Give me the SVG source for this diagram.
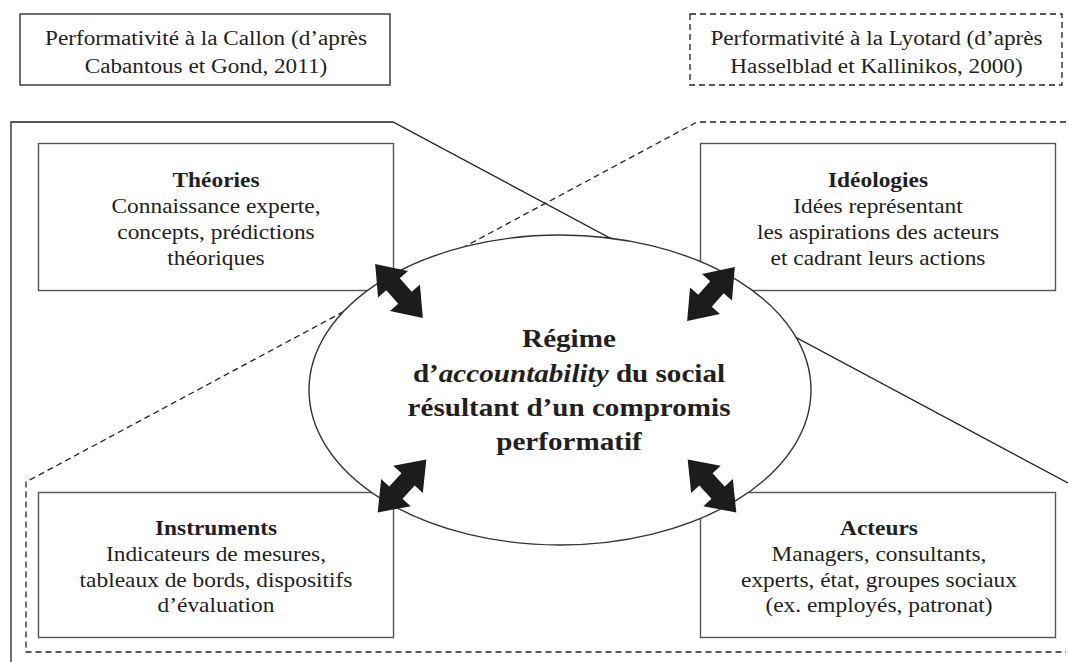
<svg xmlns="http://www.w3.org/2000/svg" width="1068" height="662" viewBox="0 0 1068 662">
<style>
text{font-family:"Liberation Serif","Times New Roman",serif;fill:#231f20;text-anchor:middle}
.t{font-size:20px}
.b{font-weight:bold}
.c{font-size:26px;font-weight:bold}
.box{fill:none;stroke:#555;stroke-width:1.4}
.solid{fill:none;stroke:#222;stroke-width:1.3}
.dash{fill:none;stroke:#222;stroke-width:1.3;stroke-dasharray:6 4}
.arr{fill:#1c1c1c}
</style>
<defs>
<path id="arrow" d="M-36 0 L-9 -20 L-9 -9 L9 -9 L9 -20 L36 0 L9 20 L9 9 L-9 9 L-9 20 Z"/>
</defs>
<g id="legend-callon">
<rect x="20" y="14" width="370" height="71" fill="none" stroke="#333" stroke-width="1.4"/>
<g transform="translate(206,0) scale(1.16,1)">
<text class="t" x="0" y="45">Performativité à la Callon (d’après</text>
<text class="t" x="0" y="73">Cabantous et Gond, 2011)</text>
</g>
</g>
<g id="legend-lyotard">
<rect x="690" y="14" width="372" height="71" class="dash"/>
<g transform="translate(876.5,0) scale(1.16,1)">
<text class="t" x="0" y="45">Performativité à la Lyotard (d’après</text>
<text class="t" x="0" y="73">Hasselblad et Kallinikos, 2000)</text>
</g>
</g>
<g id="connectors">
<polyline class="solid" points="11,662 11,122 393,122 1068,483"/>
<polyline class="dash" points="1066,122 697,122 26,482 26,652 1066,652"/>
</g>
<g id="theories">
<rect class="box" x="38.5" y="143.5" width="355" height="147"/>
<g transform="translate(216,0) scale(1.17,1)">
<text class="t b" x="0" y="187">Théories</text>
<text class="t" x="0" y="213">Connaissance experte,</text>
<text class="t" x="0" y="239">concepts, prédictions</text>
<text class="t" x="0" y="265">théoriques</text>
</g>
</g>
<g id="ideologies">
<rect class="box" x="700.5" y="143.5" width="355" height="147"/>
<g transform="translate(878,0) scale(1.17,1)">
<text class="t b" x="0" y="187">Idéologies</text>
<text class="t" x="0" y="213">Idées représentant</text>
<text class="t" x="0" y="239">les aspirations des acteurs</text>
<text class="t" x="0" y="265">et cadrant leurs actions</text>
</g>
</g>
<g id="instruments">
<rect class="box" x="38.5" y="492.5" width="355" height="145"/>
<g transform="translate(216,0) scale(1.17,1)">
<text class="t b" x="0" y="535">Instruments</text>
<text class="t" x="0" y="561">Indicateurs de mesures,</text>
<text class="t" x="0" y="587">tableaux de bords, dispositifs</text>
<text class="t" x="0" y="612">d’évaluation</text>
</g>
</g>
<g id="acteurs">
<rect class="box" x="700.5" y="492.5" width="355" height="145"/>
<g transform="translate(879,0) scale(1.17,1)">
<text class="t b" x="0" y="535">Acteurs</text>
<text class="t" x="0" y="561">Managers, consultants,</text>
<text class="t" x="0" y="587">experts, état, groupes sociaux</text>
<text class="t" x="0" y="612">(ex. employés, patronat)</text>
</g>
</g>
<g id="regime">
<ellipse cx="560" cy="390" rx="251" ry="155" fill="#fff" stroke="#333" stroke-width="1.4"/>
<g transform="translate(569,0) scale(1.12,1)">
<text class="c" x="0" y="347">Régime</text>
<text class="c" x="0" y="382">d’<tspan font-style="italic">accountability</tspan> du social</text>
<text class="c" x="0" y="416">résultant d’un compromis</text>
<text class="c" x="0" y="450">performatif</text>
</g>
</g>
<g id="arrows">
<use href="#arrow" class="arr" transform="translate(399,291) rotate(48.5)"/>
<use href="#arrow" class="arr" transform="translate(711,294) rotate(-48.5)"/>
<use href="#arrow" class="arr" transform="translate(402,486) rotate(-47.5)"/>
<use href="#arrow" class="arr" transform="translate(712,486) rotate(47.5)"/>
</g>
</svg>
